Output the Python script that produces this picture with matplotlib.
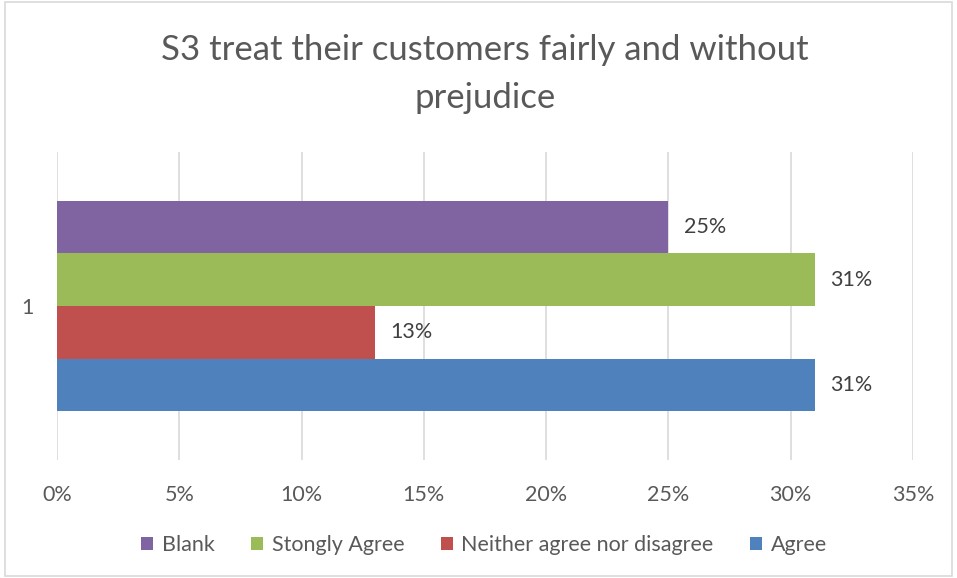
import matplotlib.pyplot as plt
from matplotlib.patches import Rectangle

plt.rcParams['font.family'] = ['Lato', 'DejaVu Sans']

# survey answers, listed top to bottom as drawn
labels = ["Blank", "Stongly Agree", "Neither agree nor disagree", "Agree"]
values = [25, 31, 13, 31]
colors = ["#8064A2", "#9BBB59", "#C0504D", "#4F81BD"]
category = "1"
x_ticks = [0, 5, 10, 15, 20, 25, 30, 35]

fig = plt.figure(figsize=(9.57, 5.78), dpi=100)
ax = fig.add_axes([57 / 957, 118 / 578, 856 / 957, 308 / 578])

bar_h = 0.171
offsets = [1.5, 0.5, -0.5, -1.5]
for lab, val, col, off in zip(labels, values, colors, offsets):
    y = 0.5 + off * bar_h
    ax.barh(y, val, height=bar_h, color=col, label=lab, zorder=3)
    ax.annotate(f"{val}%", xy=(val, y), xytext=(11, 0), textcoords="offset points",
                ha="left", va="center", fontsize=15.5, color="#404040")

ax.set_xlim(0, 35)
ax.set_ylim(0, 1)
ax.set_xticks(x_ticks)
ax.set_xticklabels([f"{t}%" for t in x_ticks])
ax.set_yticks([0.5])
ax.set_yticklabels([category])
ax.tick_params(axis="both", length=0, labelsize=15.5, labelcolor="#595959")
ax.tick_params(axis="x", pad=18)
ax.tick_params(axis="y", pad=17)
ax.grid(axis="x", color="#d9d9d9", linewidth=1.2, zorder=0)
for s in ax.spines.values():
    s.set_visible(False)

fig.text(0.507, 0.872, "S3 treat their customers fairly and without\nprejudice",
         ha="center", va="center", fontsize=25, color="#595959", linespacing=1.6)

handles, names = ax.get_legend_handles_labels()
fig.legend(handles, names, loc="center", bbox_to_anchor=(0.506, 0.057), ncol=4,
           frameon=False, fontsize=15.5, handlelength=0.55, handleheight=0.6,
           handletextpad=0.4, columnspacing=1.7, labelcolor="#595959")

# thin frame around the whole chart
fig.patches.append(Rectangle((0.005, 0.004), 0.99, 0.992, transform=fig.transFigure,
                             fill=False, edgecolor="#d9d9d9", linewidth=1.2))

fig.savefig("out.png", dpi=100)
